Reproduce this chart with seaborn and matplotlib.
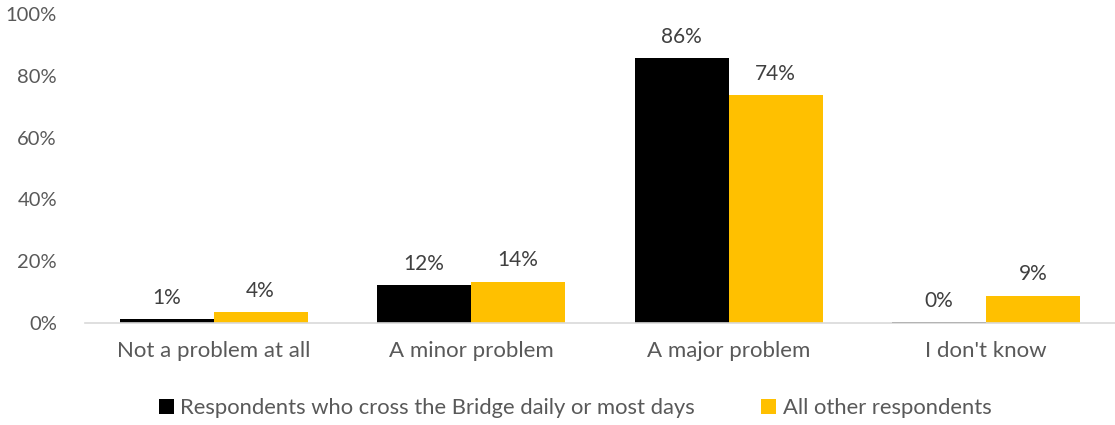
import matplotlib
matplotlib.use("Agg")
import matplotlib.pyplot as plt
import seaborn as sns
import pandas as pd

categories = ["Not a problem at all", "A minor problem", "A major problem", "I don't know"]
series_names = ["Respondents who cross the Bridge daily or most days", "All other respondents"]
daily_values = [1.2, 12.2, 85.8, 0.3]
other_values = [3.5, 13.4, 73.8, 8.9]
daily_labels = ["1%", "12%", "86%", "0%"]
other_labels = ["4%", "14%", "74%", "9%"]
yticks = [0, 20, 40, 60, 80, 100]
ytick_labels = ["0%", "20%", "40%", "60%", "80%", "100%"]
colors = ["#000000", "#FFC000"]

sns.set_theme(style="white")
plt.rcParams["font.family"] = ["Lato", "DejaVu Sans"]

df = pd.DataFrame({
    "category": categories * 2,
    "series": [series_names[0]] * 4 + [series_names[1]] * 4,
    "value": daily_values + other_values,
})

fig = plt.figure(figsize=(11.15, 4.25), dpi=100)
ax = fig.add_axes([0.076, 0.24, 0.924, 0.727])
sns.barplot(data=df, x="category", y="value", hue="series", order=categories,
            hue_order=series_names, palette=colors, width=0.73, saturation=1,
            linewidth=0, ax=ax, legend=True)

for cont, labs in zip(ax.containers, [daily_labels, other_labels]):
    ax.bar_label(cont, labels=labs, padding=8, fontsize=15, color="#404040")

ax.set_ylim(0, 100)
ax.set_xlim(-0.5, 3.5)
ax.set_yticks(yticks)
ax.set_yticklabels(ytick_labels, fontsize=14.5, color="#595959")
ax.tick_params(axis="x", labelsize=16, labelcolor="#595959", length=0, pad=13)
ax.tick_params(axis="y", length=0, pad=20)
ax.set_xlabel("")
ax.set_ylabel("")
for s in ["top", "right", "left"]:
    ax.spines[s].set_visible(False)
ax.spines["bottom"].set_color("#d9d9d9")
ax.spines["bottom"].set_linewidth(1.2)

handles, labels = ax.get_legend_handles_labels()
ax.legend(handles, labels, loc="center", bbox_to_anchor=(0.476, -0.275), ncol=2,
          frameon=False, fontsize=15.8, handlelength=0.7, handleheight=0.7,
          handletextpad=0.3, columnspacing=3.0, labelcolor="#595959")

fig.savefig("out.png", dpi=100)
